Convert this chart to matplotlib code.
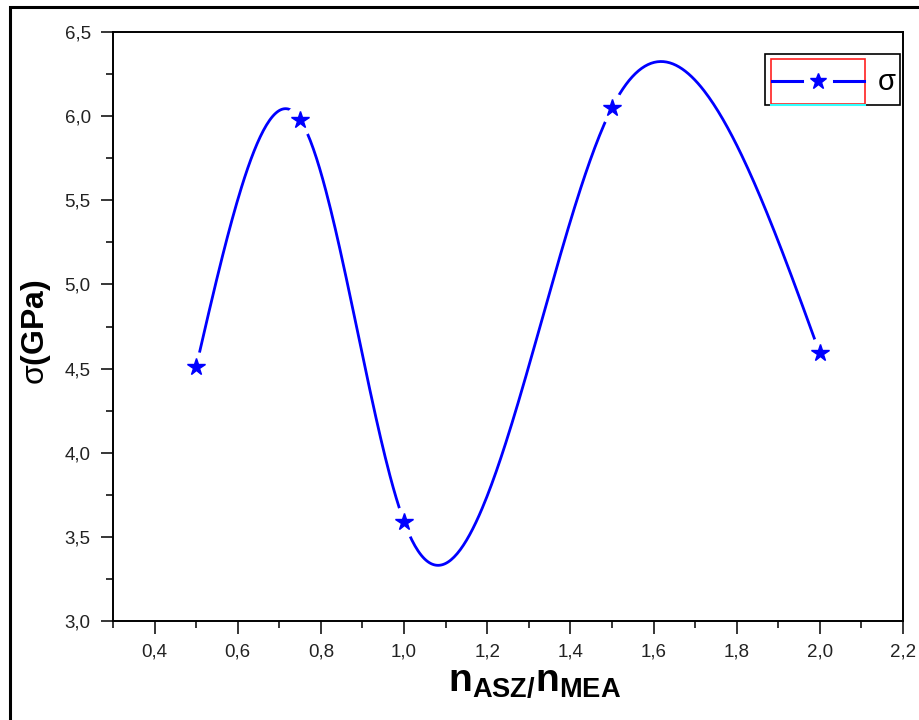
import numpy as np
import matplotlib
matplotlib.use("Agg")
import matplotlib.pyplot as plt
from matplotlib.lines import Line2D
from matplotlib.patches import Rectangle
from matplotlib.ticker import MultipleLocator, FuncFormatter

# data
ratio = [0.5, 0.75, 1.0, 1.5, 2.0]
sigma = [4.51, 5.98, 3.59, 6.05, 4.59]
x_limits = (0.3, 2.2)
y_limits = (3.0, 6.5)

plt.rcParams["font.family"] = ["Liberation Sans", "DejaVu Sans"]
plt.rcParams["mathtext.fontset"] = "custom"
plt.rcParams["mathtext.rm"] = "Liberation Sans"
plt.rcParams["mathtext.it"] = "Liberation Sans"
plt.rcParams["mathtext.bf"] = "Liberation Sans:bold"


def natural_spline(x, y, n=400):
    # Origin-style "spline" connection between the points
    x = np.asarray(x, float)
    y = np.asarray(y, float)
    h = np.diff(x)
    k = len(x)
    A = np.zeros((k, k))
    b = np.zeros(k)
    A[0, 0] = A[-1, -1] = 1.0
    for i in range(1, k - 1):
        A[i, i - 1] = h[i - 1]
        A[i, i] = 2 * (h[i - 1] + h[i])
        A[i, i + 1] = h[i]
        b[i] = 6 * ((y[i + 1] - y[i]) / h[i] - (y[i] - y[i - 1]) / h[i - 1])
    M = np.linalg.solve(A, b)
    xs = np.linspace(x[0], x[-1], n)
    idx = np.clip(np.searchsorted(x, xs) - 1, 0, k - 2)
    x0, x1, hh = x[idx], x[idx + 1], h[idx]
    ys = (M[idx] * (x1 - xs) ** 3 / (6 * hh) + M[idx + 1] * (xs - x0) ** 3 / (6 * hh)
          + (y[idx] / hh - M[idx] * hh / 6) * (x1 - xs)
          + (y[idx + 1] / hh - M[idx + 1] * hh / 6) * (xs - x0))
    return xs, ys


W, H = 919, 720
fig = plt.figure(figsize=(W / 100, H / 100), dpi=100)
ax = fig.add_axes([113 / W, 1 - 621 / H, (903 - 113) / W, (621 - 32) / H])

xs, ys = natural_spline(ratio, sigma)
ax.plot(xs, ys, color="#0000ff", lw=2.0, zorder=2)
# white gap round each symbol, then the symbol
ax.plot(ratio, sigma, "o", ms=22, color="white", mec="none", zorder=3)
ax.plot(ratio, sigma, "*", ms=13, color="#0000ff", mec="#0000ff", zorder=4)

ax.set_xlim(*x_limits)
ax.set_ylim(*y_limits)
ax.xaxis.set_major_locator(MultipleLocator(0.2))
ax.xaxis.set_minor_locator(MultipleLocator(0.1))
ax.yaxis.set_major_locator(MultipleLocator(0.5))
ax.yaxis.set_minor_locator(MultipleLocator(0.25))
comma = FuncFormatter(lambda v, _: f"{v:.1f}".replace(".", ","))
ax.xaxis.set_major_formatter(comma)
ax.yaxis.set_major_formatter(comma)
ax.tick_params(which="major", direction="out", length=9, width=1.1,
               labelsize=13.5, labelcolor="#222222", pad=7)
ax.tick_params(which="minor", direction="out", length=5, width=1.1)
for s in ax.spines.values():
    s.set_linewidth(1.4)

ax.set_xlabel(r"$\mathbf{n_{ASZ/}n_{MEA}}$", fontsize=28)
ax.xaxis.set_label_coords(0.534, -0.075)
ax.set_ylabel(r"$\sigma\mathbf{(GPa)}$", fontsize=23)
ax.yaxis.set_label_coords(-0.076, 0.49)


def fx(px):
    return px / W


def fy(py):
    return 1 - py / H


# legend box, drawn like the Origin one
fig.add_artist(Rectangle((fx(765), fy(105)), fx(900) - fx(765), fy(54) - fy(105),
                         transform=fig.transFigure, fill=False, ec="black", lw=1.2))
fig.add_artist(Rectangle((fx(771), fy(104)), fx(865) - fx(771), fy(59) - fy(104),
                         transform=fig.transFigure, fill=False, ec="#ff2020", lw=1.2))
fig.add_artist(Line2D([fx(771), fx(865)], [fy(105), fy(105)], transform=fig.transFigure,
                      color="#33ffff", lw=1.5))
fig.add_artist(Line2D([fx(772), fx(802)], [fy(81), fy(81)], transform=fig.transFigure,
                      color="#0000ff", lw=2.2))
fig.add_artist(Line2D([fx(834), fx(864)], [fy(81), fy(81)], transform=fig.transFigure,
                      color="#0000ff", lw=2.2))
fig.add_artist(Line2D([fx(818)], [fy(81)], transform=fig.transFigure, marker="*",
                      ms=12, color="#0000ff", ls="none"))
fig.text(fx(887), fy(82), "σ", fontsize=21, ha="center", va="center")

# outer frame
fig.add_artist(Rectangle((fx(10), -0.2), 1.5, fy(7) + 0.2, transform=fig.transFigure,
                         fill=False, ec="black", lw=2.2))

fig.savefig("out.png", dpi=100)
